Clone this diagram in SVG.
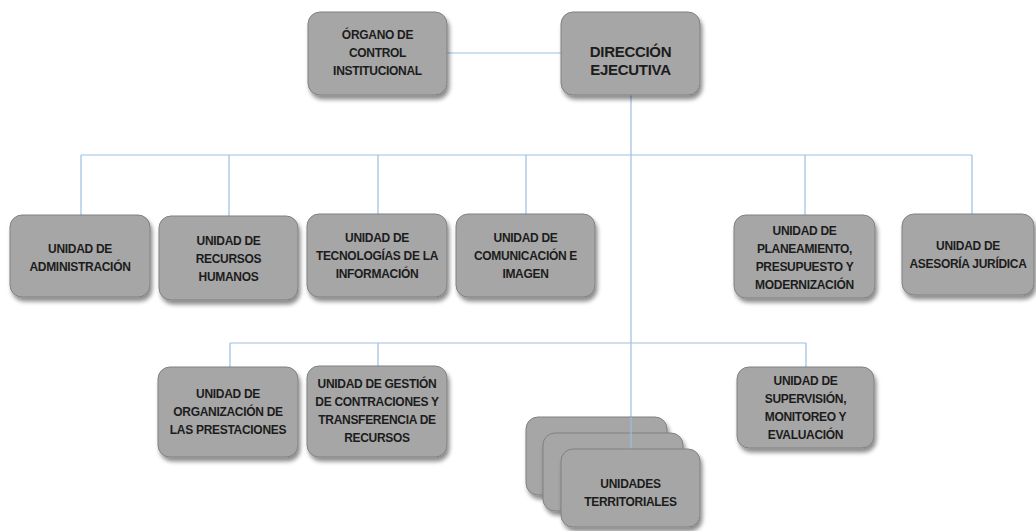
<svg xmlns="http://www.w3.org/2000/svg" width="1036" height="531" viewBox="0 0 1036 531">
<defs>
<filter id="sh" x="-20%" y="-20%" width="140%" height="150%">
<feDropShadow dx="2" dy="4" stdDeviation="2.2" flood-color="#000" flood-opacity="0.45"/>
</filter>
</defs>
<style>
.box{fill:#a6a6a6;stroke:#808080;stroke-width:1;filter:url(#sh)}
.t{font-family:"Liberation Sans",Arial,sans-serif;font-weight:bold;font-size:12px;fill:#1c1c1c;text-anchor:middle;letter-spacing:-0.3px}
.big{font-size:15px;letter-spacing:-0.3px}
.c{stroke:#9dbfe2;stroke-width:1.2;fill:none}
</style>
<rect width="1036" height="531" fill="#ffffff"/>
<g id="connectors">
<line class="c" x1="447" y1="53" x2="561" y2="53"/>
<line class="c" x1="631" y1="95" x2="631" y2="449"/>
<line class="c" x1="81" y1="155" x2="972" y2="155"/>
<line class="c" x1="81" y1="155" x2="81" y2="215"/>
<line class="c" x1="229" y1="155" x2="229" y2="216"/>
<line class="c" x1="378" y1="155" x2="378" y2="214"/>
<line class="c" x1="526" y1="155" x2="526" y2="214"/>
<line class="c" x1="805" y1="155" x2="805" y2="215"/>
<line class="c" x1="972" y1="155" x2="972" y2="214"/>
<line class="c" x1="230" y1="343" x2="806" y2="343"/>
<line class="c" x1="230" y1="343" x2="230" y2="367"/>
<line class="c" x1="378" y1="343" x2="378" y2="366"/>
<line class="c" x1="806" y1="343" x2="806" y2="367"/>
</g>
<g id="organo">
<rect class="box" x="308" y="12" width="139" height="83" rx="12"/>
<text class="t" x="377.5" y="39">ÓRGANO DE</text>
<text class="t" x="377.5" y="57">CONTROL</text>
<text class="t" x="377.5" y="75">INSTITUCIONAL</text>
</g>
<g id="direccion">
<rect class="box" x="561" y="12" width="139" height="83" rx="12"/>
<text class="t big" x="630.5" y="57">DIRECCIÓN</text>
<text class="t big" x="630.5" y="75">EJECUTIVA</text>
</g>
<g id="administracion">
<rect class="box" x="10" y="215" width="140" height="82" rx="12"/>
<text class="t" x="80" y="253">UNIDAD DE</text>
<text class="t" x="80" y="271">ADMINISTRACIÓN</text>
</g>
<g id="rrhh">
<rect class="box" x="159" y="216" width="139" height="84" rx="12"/>
<text class="t" x="228.5" y="244.5">UNIDAD DE</text>
<text class="t" x="228.5" y="262.5">RECURSOS</text>
<text class="t" x="228.5" y="280.5">HUMANOS</text>
</g>
<g id="tecnologias">
<rect class="box" x="307" y="214" width="140" height="83" rx="12"/>
<text class="t" x="377" y="242">UNIDAD DE</text>
<text class="t" x="377" y="260">TECNOLOGÍAS DE LA</text>
<text class="t" x="377" y="278">INFORMACIÓN</text>
</g>
<g id="comunicacion">
<rect class="box" x="456" y="214" width="139" height="83" rx="12"/>
<text class="t" x="525.5" y="242">UNIDAD DE</text>
<text class="t" x="525.5" y="260">COMUNICACIÓN E</text>
<text class="t" x="525.5" y="278">IMAGEN</text>
</g>
<g id="planeamiento">
<rect class="box" x="734" y="215" width="141" height="83" rx="12"/>
<text class="t" x="804.5" y="235">UNIDAD DE</text>
<text class="t" x="804.5" y="253">PLANEAMIENTO,</text>
<text class="t" x="804.5" y="271">PRESUPUESTO Y</text>
<text class="t" x="804.5" y="289">MODERNIZACIÓN</text>
</g>
<g id="asesoria">
<rect class="box" x="902" y="214" width="132" height="81" rx="12"/>
<text class="t" x="968" y="250">UNIDAD DE</text>
<text class="t" x="968" y="268">ASESORÍA JURÍDICA</text>
</g>
<g id="organizacion">
<rect class="box" x="158" y="367" width="140" height="90" rx="12"/>
<text class="t" x="228" y="398">UNIDAD DE</text>
<text class="t" x="228" y="416">ORGANIZACIÓN DE</text>
<text class="t" x="228" y="434">LAS PRESTACIONES</text>
</g>
<g id="gestion">
<rect class="box" x="307" y="366" width="140" height="91" rx="12"/>
<text class="t" x="377" y="388">UNIDAD DE GESTIÓN</text>
<text class="t" x="377" y="406">DE CONTRACIONES Y</text>
<text class="t" x="377" y="424">TRANSFERENCIA DE</text>
<text class="t" x="377" y="442">RECURSOS</text>
</g>
<g id="supervision">
<rect class="box" x="737" y="367" width="137" height="81" rx="12"/>
<text class="t" x="805.5" y="385">UNIDAD DE</text>
<text class="t" x="805.5" y="403">SUPERVISIÓN,</text>
<text class="t" x="805.5" y="421">MONITOREO Y</text>
<text class="t" x="805.5" y="439">EVALUACIÓN</text>
</g>
<g id="territoriales">
<rect class="box" x="526" y="417" width="141" height="78" rx="12"/>
<rect class="box" x="543" y="433" width="140" height="78" rx="12"/>
<line class="c" x1="631" y1="417" x2="631" y2="449"/>
<rect class="box" x="561" y="449" width="139" height="78" rx="12"/>
<text class="t" x="630.5" y="488">UNIDADES</text>
<text class="t" x="630.5" y="506">TERRITORIALES</text>
</g>
</svg>
